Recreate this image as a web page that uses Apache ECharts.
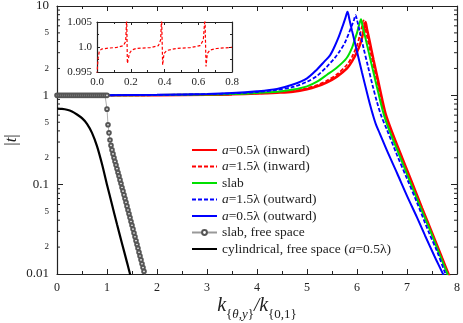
<!DOCTYPE html>
<html>
<head>
<meta charset="utf-8">
<script src="https://cdn.jsdelivr.net/npm/echarts@6/dist/echarts.min.js"></script>
<style>
  html, body { margin: 0; padding: 0; background: #fff; }
  #chart { width: 463px; height: 323px; }
</style>
</head>
<body>
<div id="chart"></div>
<script>
// curves: [k, |t|]
const inward05 = [[0,1.0],[1,1.0],[2,1.003],[3,1.012],[3.5,1.025],[4,1.045],[4.4,1.07],[4.72,1.1],[5.0,1.17],[5.2,1.26],[5.4,1.4],[5.6,1.62],[5.8,2.0],[5.9,2.4],[6.0,3.05],[6.08,4.0],[6.13,5.2],[6.17,6.6],[6.2,5.5],[6.25,4.1],[6.33,2.5],[6.42,1.48],[6.5,0.92],[6.58,0.6],[6.7,0.39],[6.9,0.202],[7.1,0.106],[7.3,0.055],[7.5,0.029],[7.7,0.0152],[7.83,0.0100],[7.9,0.0079]];
const inward15 = [[0,1.0],[1,1.0],[2,1.004],[3,1.015],[3.5,1.03],[4,1.05],[4.4,1.08],[4.72,1.12],[5.0,1.2],[5.2,1.3],[5.4,1.46],[5.6,1.72],[5.8,2.2],[5.9,2.7],[6.0,3.6],[6.06,4.8],[6.1,5.9],[6.13,6.9],[6.16,5.8],[6.21,4.3],[6.29,2.7],[6.38,1.6],[6.46,1.0],[6.56,0.6],[6.7,0.37],[6.9,0.191],[7.1,0.101],[7.3,0.053],[7.5,0.028],[7.7,0.0147],[7.82,0.0100],[7.9,0.0078]];
const slab = [[0,1.0],[1,1.001],[2,1.006],[3,1.02],[3.5,1.035],[4,1.065],[4.4,1.1],[4.72,1.16],[5.0,1.26],[5.2,1.42],[5.4,1.7],[5.6,2.05],[5.79,2.6],[5.9,3.4],[5.96,4.3],[6.0,5.0],[6.04,6.1],[6.08,7.1],[6.11,6.0],[6.16,4.6],[6.24,2.95],[6.33,1.8],[6.42,1.1],[6.54,0.6],[6.65,0.40],[6.85,0.212],[7.05,0.112],[7.25,0.059],[7.45,0.032],[7.65,0.0166],[7.81,0.0100],[7.88,0.008]];
const outward15 = [[0,1.0],[1,1.002],[2,1.01],[3,1.03],[3.5,1.05],[4,1.09],[4.4,1.15],[4.72,1.24],[5.0,1.42],[5.2,1.65],[5.4,2.1],[5.55,2.6],[5.65,3.1],[5.76,3.9],[5.84,5.0],[5.9,6.1],[5.94,7.0],[5.97,7.9],[6.0,7.0],[6.05,5.3],[6.13,3.4],[6.22,2.1],[6.31,1.3],[6.4,0.84],[6.48,0.6],[6.6,0.41],[6.8,0.215],[7.0,0.117],[7.2,0.063],[7.44,0.029],[7.6,0.018],[7.77,0.0100],[7.85,0.0078]];
const outward05 = [[0,1.0],[1,1.003],[2,1.012],[3,1.035],[3.5,1.06],[4,1.11],[4.4,1.18],[4.72,1.32],[5.0,1.55],[5.2,1.95],[5.35,2.4],[5.46,2.8],[5.55,3.5],[5.62,4.3],[5.68,5.3],[5.72,6.1],[5.77,7.4],[5.81,8.6],[5.85,7.0],[5.9,5.3],[6.0,3.1],[6.1,1.8],[6.2,1.07],[6.26,0.79],[6.32,0.6],[6.38,0.47],[6.45,0.38],[6.6,0.24],[6.8,0.135],[7.0,0.075],[7.2,0.043],[7.36,0.027],[7.55,0.0158],[7.72,0.0100],[7.8,0.0079]];
const cylFree = [[0,0.71],[0.1,0.705],[0.2,0.69],[0.3,0.66],[0.4,0.61],[0.5,0.555],[0.6,0.48],[0.7,0.38],[0.8,0.27],[0.9,0.17],[1.0,0.1],[1.1,0.06],[1.2,0.036],[1.3,0.022],[1.4,0.0135],[1.46,0.0100],[1.52,0.0078]];

// slab, free space (open circles)
const slabFreeK = [0,0.04,0.08,0.12,0.16,0.2,0.24,0.28,0.32,0.36,0.4,0.44,0.48,0.52,0.56,0.6,0.64,0.68,0.72,0.76,0.8,0.84,0.88,0.92,0.96,1.0,
  1.0,1.02,1.04,1.06,1.08,1.10,1.12,1.14,1.16,1.18,1.20,1.22,1.24,1.26,1.28,1.30,1.32,1.34,1.36,1.38,1.40,1.42,1.44,1.46,1.48,1.50,1.52,1.54,1.56,1.58,1.60,1.62,1.64,1.66,1.68,1.70,1.72,1.74,1.76,1.78];
const slabFreeT = [1,1,1,1,1,1,1,1,1,1,1,1,1,1,1,1,1,1,1,1,1,1,1,1,1,1,
  0.70,0.468,0.38,0.316,0.275,0.245,0.221,0.2,0.182,0.166,0.151,0.137,0.125,0.113,0.103,0.093,0.0847,0.0769,0.0698,0.0634,0.0575,0.0521,0.0472,0.0428,0.0387,0.0351,0.0318,0.0288,0.0261,0.0236,0.0214,0.0194,0.0175,0.0159,0.0144,0.0130,0.0118,0.0107,0.0097,0.0088];

// inset: a=1.5λ (inward) close to |t|=1
const insetK = [0,0.006,0.014,0.028,0.057,0.117,0.156,0.170,0.176,0.180,0.192,0.206,0.235,0.314,0.364,0.377,0.383,0.389,0.397,0.413,0.472,0.551,0.611,0.630,0.640,0.646,0.654,0.670,0.709,0.8];
const insetT = [0.9945,0.9977,0.9992,0.9996,0.99973,0.99993,1.00027,1.0011,1.0060,0.9967,0.9987,0.9994,0.99973,0.99987,1.00027,1.0014,1.0060,0.9964,0.9987,0.9993,0.99973,0.99987,1.00027,1.0014,1.0060,0.9961,0.9987,0.9994,0.9997,0.99993];

// log axis minor ticks and their small labels
const yMinorTicks = [0.02,0.03,0.04,0.05,0.06,0.07,0.08,0.09,0.2,0.3,0.4,0.5,0.6,0.7,0.8,0.9,2,3,4,5,6,7,8,9];
const yMinorLabels = [0.02,0.05,0.2,0.5,2,5];

const FONT = 'Liberation Serif';
const INK = '#222';
const RED = '#ff0000', GREEN = '#00e000', BLUE = '#0000ff';

const zip = (a, b) => a.map((v, i) => [v, b[i]]);

function axisBase(labels, tickLen, fontSize) {
  return {
    axisLine: { show: true, onZero: false, lineStyle: { color: INK, width: 1.2 } },
    axisTick: { show: true, inside: true, length: tickLen, lineStyle: { color: INK, width: 1 } },
    splitLine: { show: false },
    axisLabel: { show: labels, color: INK, fontFamily: FONT, fontSize: fontSize }
  };
}
const minor = len => ({ show: true, splitNumber: 2, length: len, lineStyle: { color: INK, width: 1 } });

const chart = echarts.init(document.getElementById('chart'));

const lineSeries = (name, data, color, width, dashed) => ({
  name, type: 'line', data,
  xAxisIndex: 0, yAxisIndex: 0,
  symbol: 'none', clip: true, smooth: 0.3,
  lineStyle: { color, width, type: dashed ? [4, 2] : 'solid' },
  itemStyle: { color },
  z: 3
});

// line-only legend entries (no symbol in the icon)
const lineKey = name => ({ name, itemStyle: { color: 'transparent', borderWidth: 0 } });

chart.setOption({
  animation: false,
  backgroundColor: '#fff',
  grid: [
    { left: 57, right: 6, top: 6, bottom: 49, outerBoundsMode: 'none', containLabel: false },
    { left: 97, top: 22, width: 135, height: 50, outerBoundsMode: 'none', containLabel: false,
      show: true, backgroundColor: '#fff', borderWidth: 0 }
  ],
  xAxis: [
    Object.assign(axisBase(true, 5, 12), {
      type: 'value', gridIndex: 0, position: 'bottom', min: 0, max: 8, interval: 1,
      minorTick: minor(3),
      axisLabel: { show: true, color: INK, fontFamily: FONT, fontSize: 12, margin: 8 },
      name: '{k|k}{{si|θ},{si|y}}{sl|/}{k|k}{0,1}',
      nameLocation: 'middle', nameGap: 22, nameMoveOverlap: false,
      nameTextStyle: {
        fontFamily: FONT, fontSize: 13, color: INK, lineHeight: 38,
        rich: {
          k: { fontFamily: FONT, fontStyle: 'italic', fontSize: 20, color: INK, verticalAlign: 'top', lineHeight: 24 },
          sl: { fontFamily: FONT, fontStyle: 'italic', fontSize: 19, color: INK, verticalAlign: 'top', lineHeight: 24 },
          si: { fontFamily: FONT, fontStyle: 'italic', fontSize: 13, color: INK, lineHeight: 38 }
        }
      }
    }),
    Object.assign(axisBase(false, 5, 12), {
      type: 'value', gridIndex: 0, position: 'top', min: 0, max: 8, interval: 1,
      minorTick: minor(3)
    }),
    Object.assign(axisBase(true, 3, 11), {
      type: 'value', gridIndex: 1, position: 'bottom', min: 0, max: 0.8, interval: 0.2,
      minorTick: minor(2),
      axisLabel: { show: true, color: INK, fontFamily: FONT, fontSize: 11, margin: 5, formatter: v => v.toFixed(1) }
    }),
    Object.assign(axisBase(false, 3, 11), {
      type: 'value', gridIndex: 1, position: 'top', min: 0, max: 0.8, interval: 0.2,
      minorTick: minor(2)
    })
  ],
  yAxis: [
    Object.assign(axisBase(true, 6, 12), {
      type: 'log', logBase: 10, gridIndex: 0, position: 'left', min: 0.01, max: 10,
      axisLabel: { show: true, color: INK, fontFamily: FONT, fontSize: 13, margin: 8, formatter: v => String(+(+v).toPrecision(3)) },
      name: '|{i|t}|', nameLocation: 'middle', nameRotate: 90, nameGap: 37, nameMoveOverlap: false,
      nameTextStyle: { fontFamily: FONT, fontSize: 17, color: INK, rich: { i: { fontFamily: FONT, fontStyle: 'italic', fontSize: 17, color: INK } } }
    }),
    Object.assign(axisBase(false, 6, 12), {
      type: 'log', logBase: 10, gridIndex: 0, position: 'right', min: 0.01, max: 10
    }),
    Object.assign(axisBase(true, 3, 11), {
      type: 'value', gridIndex: 1, position: 'left', min: 0.995, max: 1.005, interval: 0.005,
      minorTick: minor(2),
      axisLabel: { show: true, color: INK, fontFamily: FONT, fontSize: 11, margin: 5, formatter: v => Math.abs(v - 1) < 1e-6 ? '1.0' : v.toFixed(3) }
    }),
    Object.assign(axisBase(false, 3, 11), {
      type: 'value', gridIndex: 1, position: 'right', min: 0.995, max: 1.005, interval: 0.005,
      minorTick: minor(2)
    })
  ],
  legend: {
    data: [
      lineKey('a=0.5λ (inward)'), lineKey('a=1.5λ (inward)'), lineKey('slab'),
      lineKey('a=1.5λ (outward)'), lineKey('a=0.5λ (outward)'),
      { name: 'slab, free space' },
      lineKey('cylindrical, free space (a=0.5λ)')
    ],
    orient: 'vertical', left: 191, top: 143, padding: 0,
    itemWidth: 25, itemHeight: 6, itemGap: 2.5,
    selectedMode: false,
    textStyle: {
      fontFamily: FONT, fontSize: 13.5, color: INK,
      rich: { i: { fontFamily: FONT, fontStyle: 'italic', fontSize: 13.5, color: INK } }
    },
    formatter: name => name.replace(/\ba=/, '{i|a}=')
  },
  series: [
    lineSeries('a=0.5λ (inward)', inward05, RED, 2.5, false),
    lineSeries('a=1.5λ (inward)', inward15, RED, 1.8, true),
    lineSeries('slab', slab, GREEN, 2, false),
    lineSeries('a=1.5λ (outward)', outward15, BLUE, 1.8, true),
    lineSeries('a=0.5λ (outward)', outward05, BLUE, 2, false),
    {
      name: 'slab, free space', type: 'line', data: zip(slabFreeK, slabFreeT),
      xAxisIndex: 0, yAxisIndex: 0, clip: true,
      symbol: 'emptyCircle', symbolSize: 3.6, showAllSymbol: true,
      lineStyle: { color: '#999', width: 0.8 },
      itemStyle: { color: '#555', borderWidth: 0.8 },
      z: 4
    },
    {
      name: 'cylindrical, free space (a=0.5λ)', type: 'line', data: cylFree,
      xAxisIndex: 0, yAxisIndex: 0, clip: true, symbol: 'none', smooth: 0.2,
      lineStyle: { color: '#000', width: 2.2 }, itemStyle: { color: '#000' }, z: 4
    },
    {
      name: 'inset', type: 'line', data: zip(insetK, insetT),
      xAxisIndex: 2, yAxisIndex: 2, clip: true, symbol: 'none',
      lineStyle: { color: RED, width: 1.2, type: [3, 2] }, z: 3
    },
    {
      type: 'custom', xAxisIndex: 0, yAxisIndex: 0, silent: true, clip: false, z: 5,
      data: yMinorTicks.map(v => [0, v]),
      encode: { x: 0, y: 1 },
      renderItem: (params, api) => {
        const v = api.value(1);
        const l = api.coord([0, v]);
        const r = api.coord([8, v]);
        const tick = { stroke: INK, lineWidth: 1 };
        const kids = [
          { type: 'line', shape: { x1: l[0], y1: l[1], x2: l[0] + 3, y2: l[1] }, style: tick },
          { type: 'line', shape: { x1: r[0] - 3, y1: r[1], x2: r[0], y2: r[1] }, style: tick }
        ];
        if (yMinorLabels.includes(v)) {
          kids.push({
            type: 'text', x: l[0] - 8, y: l[1],
            style: { text: v.toExponential()[0], fill: INK, font: '9px "Liberation Serif"', align: 'right', verticalAlign: 'middle' }
          });
        }
        return { type: 'group', children: kids };
      }
    }
  ]
});
</script>
</body>
</html>
